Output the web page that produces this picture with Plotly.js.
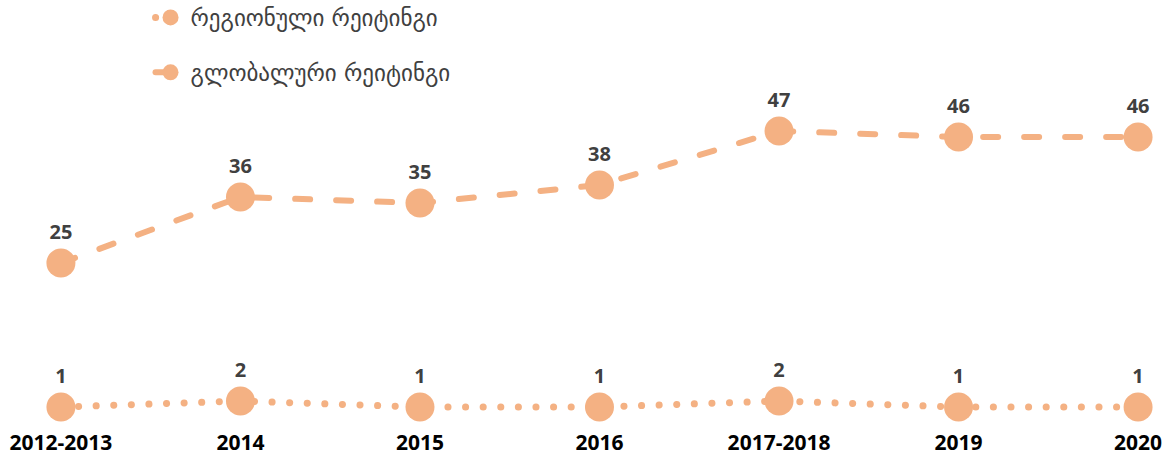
<!DOCTYPE html>
<html>
<head>
<meta charset="utf-8">
<script src="https://cdn.plot.ly/plotly-3.0.1.min.js"></script>
<style>
html,body{margin:0;padding:0;background:#fff;}
#chart{width:1173px;height:455px;}
.scatterlayer .js-line, .legendlines path{stroke-linecap:round !important;}
</style>
</head>
<body>
<div id="chart"></div>
<script>
const categories = ["2012-2013","2014","2015","2016","2017-2018","2019","2020"];
const regionalName = "რეგიონული რეიტინგი";
const globalName = "გლობალური რეიტინგი";
const regionalValues = [1,2,1,1,2,1,1];
const globalValues = [25,36,35,38,47,46,46];

const peach = "#F4B183";
const labelFont = {family:"Open Sans, DejaVu Sans, sans-serif", size:20, color:"#404040", weight:"bold"};

const traces = [
  {
    x: categories, y: regionalValues, name: regionalName, type: "scatter",
    mode: "lines+markers+text", text: regionalValues.map(String), textposition: "top center",
    textfont: labelFont, cliponaxis: false, legendgroup: "a",
    line: {color: peach, width: 7, dash: "0.1px,17.5px"},
    marker: {color: peach, size: 29}
  },
  {
    x: categories, y: globalValues, name: globalName, type: "scatter",
    mode: "lines+markers+text", text: globalValues.map(String), textposition: "top center",
    textfont: labelFont, cliponaxis: false, legendgroup: "b",
    line: {color: peach, width: 6, dash: "15px,26px"},
    marker: {color: peach, size: 29}
  }
];

const layout = {
  width: 1173, height: 455,
  margin: {l: 20, r: 15, t: 113, b: 42, autoexpand: false},
  paper_bgcolor: "#fff", plot_bgcolor: "#fff",
  showlegend: true,
  legend: {
    x: 0.1147, y: 1.39, xanchor: "left", yanchor: "top",
    orientation: "v", traceorder: "grouped", tracegroupgap: 22,
    font: {family: "DejaVu Sans, sans-serif", size: 23, color: "#404040"},
    bgcolor: "rgba(0,0,0,0)"
  },
  xaxis: {
    type: "category", range: [-0.228, 6.111],
    showgrid: false, zeroline: false, showline: false, ticks: "",
    ticklabelstandoff: 15,
    tickfont: {family: "Open Sans, DejaVu Sans, sans-serif", size: 21, color: "#000", weight: "bold"}
  },
  yaxis: {
    range: [0, 50], visible: false, showgrid: false, zeroline: false
  }
};

Plotly.newPlot("chart", traces, layout, {displayModeBar: false, staticPlot: true});
</script>
</body>
</html>
